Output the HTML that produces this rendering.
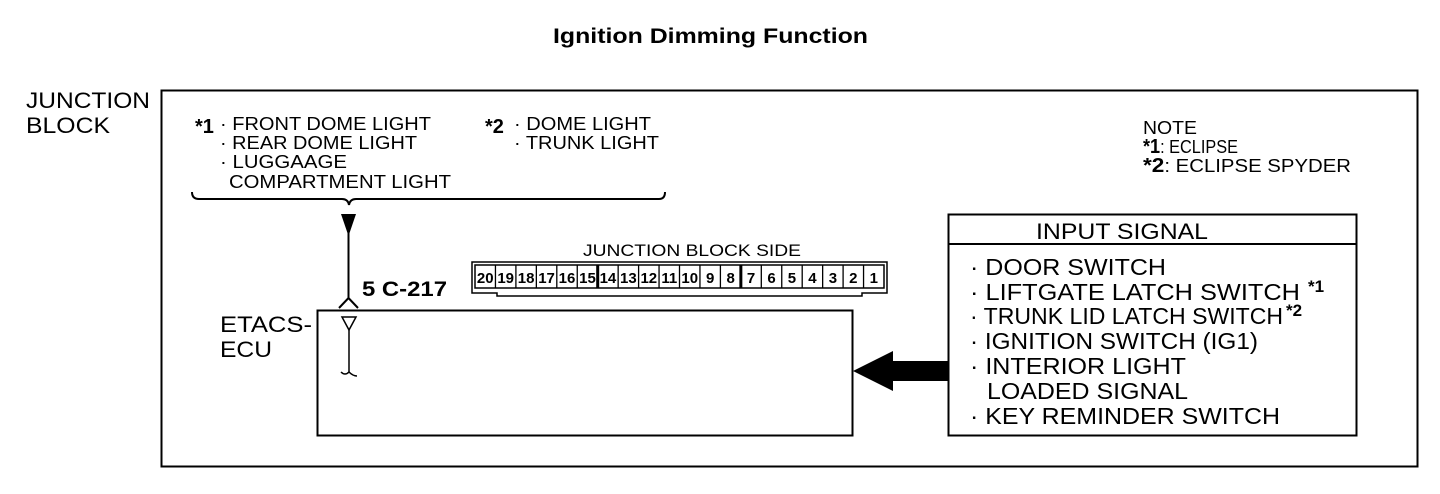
<!DOCTYPE html>
<html><head><style>
html,body{margin:0;padding:0;background:#fff;}
svg{display:block;font-family:"Liberation Sans",Arial,sans-serif;}
</style></head><body>
<svg width="1440" height="494" viewBox="0 0 1440 494" xmlns="http://www.w3.org/2000/svg">
<text x="553" y="43" font-size="21" font-weight="bold" textLength="315" lengthAdjust="spacingAndGlyphs">Ignition Dimming Function</text>
<text x="26" y="108" font-size="22" textLength="124" lengthAdjust="spacingAndGlyphs">JUNCTION</text>
<text x="26" y="133" font-size="22" textLength="84" lengthAdjust="spacingAndGlyphs">BLOCK</text>
<rect x="161.5" y="90.5" width="1256" height="376" fill="none" stroke="#000" stroke-width="2"/>
<g font-size="18">
<text x="195" y="133" font-weight="bold" font-size="20">*1</text>
<text x="220" y="130" textLength="211" lengthAdjust="spacingAndGlyphs">· FRONT DOME LIGHT</text>
<text x="220" y="149" textLength="197" lengthAdjust="spacingAndGlyphs">· REAR DOME LIGHT</text>
<text x="220" y="168" textLength="127" lengthAdjust="spacingAndGlyphs">· LUGGAAGE</text>
<text x="229" y="188" textLength="222" lengthAdjust="spacingAndGlyphs">COMPARTMENT LIGHT</text>
<text x="485" y="133" font-weight="bold" font-size="20">*2</text>
<text x="514" y="130" textLength="137" lengthAdjust="spacingAndGlyphs">· DOME LIGHT</text>
<text x="514" y="149" textLength="145" lengthAdjust="spacingAndGlyphs">· TRUNK LIGHT</text>
<text x="1143" y="134" textLength="54" lengthAdjust="spacingAndGlyphs">NOTE</text>
<text x="1143" y="153" textLength="95" lengthAdjust="spacingAndGlyphs"><tspan font-weight="bold" font-size="20">*1</tspan>: ECLIPSE</text>
<text x="1143" y="172" textLength="208" lengthAdjust="spacingAndGlyphs"><tspan font-weight="bold" font-size="20">*2</tspan>: ECLIPSE SPYDER</text>
</g>
<path d="M192 192 Q192 199 199 199 L342 199 Q348 199 349 205 Q350 199 356 199 L659 199 Q665 199 665 192" fill="none" stroke="#000" stroke-width="2"/>
<polygon points="341,214 356,214 348.5,236" fill="#000"/>
<line x1="348.5" y1="230" x2="348.5" y2="298" stroke="#000" stroke-width="2"/>
<polyline points="339,308 348.5,298 358,308" fill="none" stroke="#000" stroke-width="2"/>
<text x="362" y="296" font-size="21" font-weight="bold" textLength="85" lengthAdjust="spacingAndGlyphs">5 C-217</text>
<text x="583" y="256" font-size="17" textLength="218" lengthAdjust="spacingAndGlyphs">JUNCTION BLOCK SIDE</text>
<g stroke="#000" fill="none" stroke-width="1.5">
<path d="M472 262 L887 262 L887 293 L862 293 L862 296 L497 296 L497 293 L472 293 Z"/>
<rect x="475" y="265" width="409" height="23"/>
</g>
<g font-size="15" font-weight="bold" text-anchor="middle" id="cells"></g>
<script>
var g=document.getElementById('cells');var ns='http://www.w3.org/2000/svg';
var x0=475,w=409/20;
for(var i=0;i<20;i++){var n=20-i;var cx=x0+w*i;
var t=document.createElementNS(ns,'text');t.setAttribute('x',cx+w/2);t.setAttribute('y',283);t.textContent=n;g.appendChild(t);
if(i>0){var l=document.createElementNS(ns,'line');l.setAttribute('x1',cx);l.setAttribute('x2',cx);l.setAttribute('y1',265);l.setAttribute('y2',288);l.setAttribute('stroke','#000');l.setAttribute('stroke-width',(i==6||i==13)?3:1.3);g.appendChild(l);}}
</script>
<text x="220" y="332" font-size="22" textLength="92" lengthAdjust="spacingAndGlyphs">ETACS-</text>
<text x="220" y="357" font-size="22" textLength="52" lengthAdjust="spacingAndGlyphs">ECU</text>
<rect x="317.5" y="310.5" width="535" height="125" fill="none" stroke="#000" stroke-width="2"/>
<polygon points="342,317 356,317 349,330" fill="none" stroke="#000" stroke-width="1.5"/>
<line x1="349" y1="330" x2="349" y2="372" stroke="#000" stroke-width="1.5"/>
<path d="M341 372 Q345 376 349 372 Q353 376 357 376" fill="none" stroke="#000" stroke-width="1.5"/>
<polygon points="853,371 893,351 893,361 948,361 948,381 893,381 893,391" fill="#000"/>
<rect x="948.5" y="214.5" width="408" height="221" fill="none" stroke="#000" stroke-width="2"/>
<line x1="948" y1="244" x2="1357" y2="244" stroke="#000" stroke-width="2"/>
<text x="1036" y="239" font-size="22" textLength="172" lengthAdjust="spacingAndGlyphs">INPUT SIGNAL</text>
<g font-size="23">
<text x="970" y="275" textLength="196" lengthAdjust="spacingAndGlyphs">· DOOR SWITCH</text>
<text x="970" y="300" textLength="330" lengthAdjust="spacingAndGlyphs">· LIFTGATE LATCH SWITCH</text>
<text x="1308" y="292" font-size="17" font-weight="bold">*1</text>
<text x="970" y="324" textLength="313" lengthAdjust="spacingAndGlyphs">· TRUNK LID LATCH SWITCH</text>
<text x="1286" y="316" font-size="17" font-weight="bold">*2</text>
<text x="970" y="349" textLength="288" lengthAdjust="spacingAndGlyphs">· IGNITION SWITCH (IG1)</text>
<text x="970" y="374" textLength="216" lengthAdjust="spacingAndGlyphs">· INTERIOR LIGHT</text>
<text x="987" y="399" textLength="201" lengthAdjust="spacingAndGlyphs">LOADED SIGNAL</text>
<text x="970" y="424" textLength="310" lengthAdjust="spacingAndGlyphs">· KEY REMINDER SWITCH</text>
</g>
</svg>
</body></html>
